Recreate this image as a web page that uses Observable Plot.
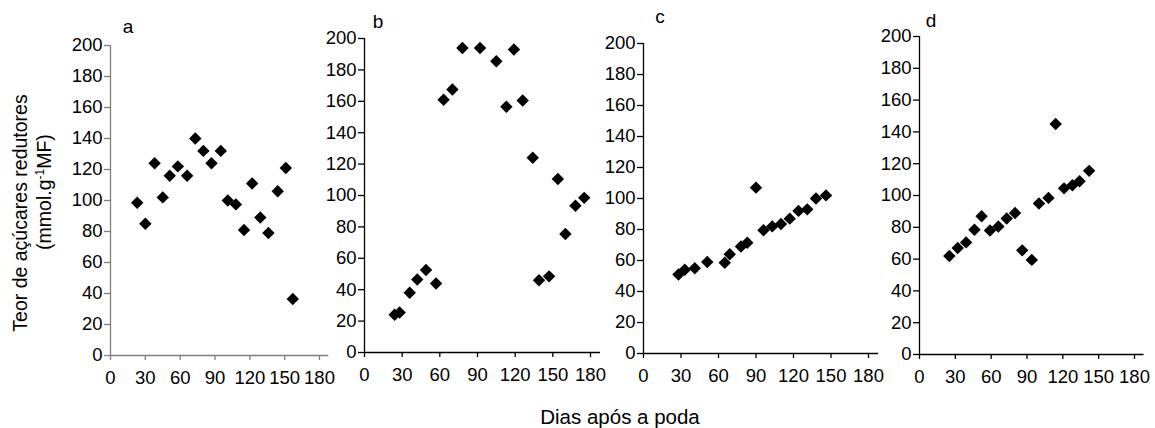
<!DOCTYPE html>
<html><head><meta charset="utf-8">
<script src="https://cdn.jsdelivr.net/npm/d3@7"></script>
<script src="https://cdn.jsdelivr.net/npm/@observablehq/plot@0.6"></script>
<style>
body{margin:0;background:#fff;}
#wrap{position:relative;width:1155px;height:428px;overflow:hidden;background:#fff;font-family:"Liberation Sans",Arial,sans-serif;}
#wrap > svg{position:absolute;top:0;}
</style></head><body><div id="wrap"></div>
<script>
// ---- data ----
const panelLabels = ["a", "b", "c", "d"];
const xTicks = [0, 30, 60, 90, 120, 150, 180];
const yTicks = [0, 20, 40, 60, 80, 100, 120, 140, 160, 180, 200];

const daysA  = [23, 30, 38, 45, 51, 58, 66, 73, 80, 87, 95, 101, 108, 115, 122, 129, 136, 144, 151, 157];
const sugarA = [98.5, 85, 124, 102, 116, 122, 116, 140, 132, 124, 132, 100, 97.5, 81, 111, 89, 79, 106, 121, 36.5];

const daysB  = [24, 28, 36, 42, 49, 57, 63, 70, 78, 92, 105, 113, 119, 126, 134, 139, 147, 154, 160, 168, 175];
const sugarB = [24, 25.5, 38, 46.5, 52.5, 44, 161, 167.5, 194, 194, 185.5, 156.5, 193, 160.5, 124, 46, 48.5, 110.5, 75.5, 93.5, 98.5];

const daysC  = [28, 33, 41, 51, 65, 69, 78, 83, 90, 96, 103, 110, 117, 124, 131, 138, 146];
const sugarC = [51, 54, 55, 59, 58.5, 64, 69, 71.5, 107, 79.5, 82, 83.5, 87, 92, 93, 100, 102];

const daysD  = [25, 32, 39, 46, 52, 59, 66, 73, 80, 86, 94, 100, 108, 114, 121, 128, 134, 142];
const sugarD = [62, 67, 70.5, 78.5, 87, 78, 80.5, 85.5, 89, 65.5, 59.5, 95, 98.5, 145, 104.5, 106.5, 109, 115.5];

const yTitle1 = "Teor de açúcares redutores";
const yTitle2a = "(mmol.g";
const yTitle2sup = "-1";
const yTitle2b = "MF)";
const xTitle = "Dias após a poda";

// ---- layout (page pixels) ----
const H = 428;
const panels = [
  {label: panelLabels[0], days: daysA, sugar: sugarA, left: 55,  width: 285, x0: 110, x180: 319, y0: 355, y200: 45, axis: "#808080", lx: 128, ly: 33},
  {label: panelLabels[1], days: daysB, sugar: sugarB, left: 320, width: 290, x0: 364, x180: 590, y0: 352, y200: 38, axis: "#000", lx: 378, ly: 28},
  {label: panelLabels[2], days: daysC, sugar: sugarC, left: 600, width: 290, x0: 643, x180: 868, y0: 353, y200: 43, axis: "#000", lx: 660, ly: 23},
  {label: panelLabels[3], days: daysD, sugar: sugarD, left: 875, width: 280, x0: 919, x180: 1134, y0: 354, y200: 36, axis: "#000", lx: 931, ly: 27}
];
const xMax = 188;
const wrap = document.getElementById("wrap");
const tickFont = 18.5;

for (const p of panels) {
  const data = p.days.map((d, i) => ({day: d, value: p.sugar[i]}));
  const xEnd = p.x0 + (p.x180 - p.x0) * xMax / 180;
  const plot = Plot.plot({
    width: p.width,
    height: H,
    marginLeft: p.x0 - p.left,
    marginRight: p.left + p.width - xEnd,
    marginTop: p.y200,
    marginBottom: H - p.y0,
    style: {background: "transparent", overflow: "visible", fontSize: tickFont + "px", fontFamily: "'Liberation Sans', Arial, sans-serif", color: "#000"},
    x: {domain: [0, xMax]},
    y: {domain: [0, 200]},
    marks: [
      Plot.ruleY([0], {x1: 0, x2: xMax, stroke: p.axis, strokeWidth: 1.3}),
      Plot.ruleX([0], {y1: 0, y2: 200, stroke: p.axis, strokeWidth: 1.3}),
      Plot.axisX({ticks: xTicks, tickSize: 5, tickPadding: 10, fontSize: tickFont, stroke: p.axis, strokeWidth: 1.3, fill: "#000", label: null}),
      Plot.axisY({ticks: yTicks, tickSize: 6, tickPadding: 2, fontSize: tickFont, stroke: p.axis, strokeWidth: 1.3, fill: "#000", label: null}),
      Plot.dot(data, {x: "day", y: "value", symbol: "diamond2", r: 5.6, fill: "#000", stroke: "none"})
    ]
  });
  plot.style.left = p.left + "px";
  wrap.appendChild(plot);
}

// ---- titles and panel letters ----
const ns = "http://www.w3.org/2000/svg";
const over = document.createElementNS(ns, "svg");
over.setAttribute("width", 1155);
over.setAttribute("height", H);
over.style.left = "0px";
over.style.pointerEvents = "none";
over.style.fontFamily = "'Liberation Sans', Arial, sans-serif";
function addText(str, x, y, size, anchor, rotate) {
  const t = document.createElementNS(ns, "text");
  t.setAttribute("x", x); t.setAttribute("y", y);
  t.setAttribute("font-size", size);
  t.setAttribute("text-anchor", anchor);
  t.setAttribute("fill", "#000");
  if (rotate) t.setAttribute("transform", `rotate(${rotate},${x},${y})`);
  if (typeof str === "string") t.textContent = str;
  over.appendChild(t);
  return t;
}
for (const p of panels) addText(p.label, p.lx, p.ly, 19, "middle");
addText(xTitle, 620, 424, 20.5, "middle");
addText(yTitle1, 27, 213, 19.5, "middle", -90);
const t2 = addText(null, 51, 192, 19.5, "middle", -90);
const s1 = document.createElementNS(ns, "tspan"); s1.textContent = yTitle2a; t2.appendChild(s1);
const s2 = document.createElementNS(ns, "tspan"); s2.textContent = yTitle2sup; s2.setAttribute("font-size", 12); s2.setAttribute("dy", -7); t2.appendChild(s2);
const s3 = document.createElementNS(ns, "tspan"); s3.textContent = yTitle2b; s3.setAttribute("dy", 7); t2.appendChild(s3);
wrap.appendChild(over);
</script>
</body></html>
